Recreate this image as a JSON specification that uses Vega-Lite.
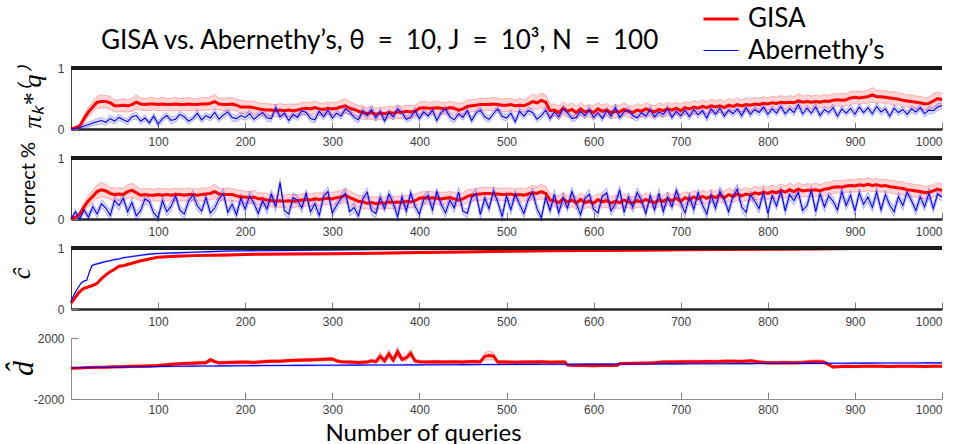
{
"$schema":"https://vega.github.io/schema/vega-lite/v6.json",
"background":"white",
"padding":{"left":8,"top":0,"right":3,"bottom":0},
"spacing":29,
"bounds":"flush",
"resolve":{"scale":{"color":"shared","strokeWidth":"shared"}},
"config":{"view":{"stroke":null},"axis":{"grid":false,"labelFont":"Liberation Sans","labelFontSize":12,"labelColor":"#404040","tickColor":"#808080","tickWidth":1,"tickSize":-7,"labelPadding":14}},
"datasets":{
"p1":[
{"x":0,"g":0,"ge":0,"a":0,"ae":0},{"x":5,"g":0.02,"ge":0.02,"a":0.01,"ae":0.01},{"x":10,"g":0.05,"ge":0.03,"a":0.02,"ae":0.02},{"x":15,"g":0.17,"ge":0.06,"a":0.05,"ae":0.03},{"x":20,"g":0.28,"ge":0.08,"a":0.07,"ae":0.04},{"x":25,"g":0.36,"ge":0.09,"a":0.1,"ae":0.04},{"x":30,"g":0.44,"ge":0.1,"a":0.12,"ae":0.05},{"x":35,"g":0.45,"ge":0.11,"a":0.14,"ae":0.05},{"x":40,"g":0.45,"ge":0.1,"a":0.11,"ae":0.05},{"x":45,"g":0.43,"ge":0.11,"a":0.17,"ae":0.06},
{"x":50,"g":0.38,"ge":0.1,"a":0.13,"ae":0.05},{"x":55,"g":0.38,"ge":0.1,"a":0.19,"ae":0.05},{"x":60,"g":0.39,"ge":0.11,"a":0.15,"ae":0.04},{"x":65,"g":0.38,"ge":0.1,"a":0.12,"ae":0.05},{"x":70,"g":0.4,"ge":0.11,"a":0.2,"ae":0.05},{"x":75,"g":0.44,"ge":0.12,"a":0.22,"ae":0.06},{"x":80,"g":0.41,"ge":0.1,"a":0.13,"ae":0.05},{"x":85,"g":0.4,"ge":0.1,"a":0.18,"ae":0.05},{"x":90,"g":0.41,"ge":0.11,"a":0.1,"ae":0.04},{"x":95,"g":0.41,"ge":0.1,"a":0.21,"ae":0.05},
{"x":100,"g":0.4,"ge":0.1,"a":0.08,"ae":0.05},{"x":105,"g":0.41,"ge":0.11,"a":0.17,"ae":0.05},{"x":110,"g":0.4,"ge":0.1,"a":0.22,"ae":0.04},{"x":115,"g":0.4,"ge":0.1,"a":0.14,"ae":0.06},{"x":120,"g":0.41,"ge":0.11,"a":0.16,"ae":0.05},{"x":125,"g":0.4,"ge":0.1,"a":0.24,"ae":0.05},{"x":130,"g":0.4,"ge":0.1,"a":0.2,"ae":0.05},{"x":135,"g":0.41,"ge":0.11,"a":0.13,"ae":0.05},{"x":140,"g":0.4,"ge":0.1,"a":0.17,"ae":0.04},{"x":145,"g":0.4,"ge":0.1,"a":0.26,"ae":0.06},
{"x":150,"g":0.41,"ge":0.11,"a":0.15,"ae":0.05},{"x":155,"g":0.41,"ge":0.1,"a":0.22,"ae":0.05},{"x":160,"g":0.42,"ge":0.11,"a":0.18,"ae":0.05},{"x":165,"g":0.45,"ge":0.12,"a":0.27,"ae":0.06},{"x":170,"g":0.41,"ge":0.1,"a":0.16,"ae":0.05},{"x":175,"g":0.4,"ge":0.1,"a":0.23,"ae":0.05},{"x":180,"g":0.4,"ge":0.11,"a":0.28,"ae":0.05},{"x":185,"g":0.41,"ge":0.1,"a":0.19,"ae":0.06},{"x":190,"g":0.39,"ge":0.1,"a":0.17,"ae":0.05},{"x":195,"g":0.36,"ge":0.11,"a":0.22,"ae":0.05},
{"x":200,"g":0.36,"ge":0.1,"a":0.19,"ae":0.05},{"x":205,"g":0.36,"ge":0.1,"a":0.25,"ae":0.06},{"x":210,"g":0.35,"ge":0.11,"a":0.16,"ae":0.05},{"x":215,"g":0.33,"ge":0.1,"a":0.22,"ae":0.05},{"x":220,"g":0.32,"ge":0.1,"a":0.27,"ae":0.05},{"x":225,"g":0.31,"ge":0.11,"a":0.18,"ae":0.06},{"x":230,"g":0.31,"ge":0.1,"a":0.17,"ae":0.05},{"x":235,"g":0.3,"ge":0.1,"a":0.35,"ae":0.06},{"x":240,"g":0.31,"ge":0.11,"a":0.2,"ae":0.05},{"x":245,"g":0.3,"ge":0.1,"a":0.26,"ae":0.05},
{"x":250,"g":0.31,"ge":0.1,"a":0.14,"ae":0.05},{"x":255,"g":0.3,"ge":0.11,"a":0.24,"ae":0.06},{"x":260,"g":0.31,"ge":0.1,"a":0.19,"ae":0.05},{"x":265,"g":0.33,"ge":0.11,"a":0.3,"ae":0.06},{"x":270,"g":0.34,"ge":0.1,"a":0.27,"ae":0.05},{"x":275,"g":0.33,"ge":0.1,"a":0.17,"ae":0.05},{"x":280,"g":0.35,"ge":0.11,"a":0.15,"ae":0.05},{"x":285,"g":0.33,"ge":0.1,"a":0.29,"ae":0.06},{"x":290,"g":0.32,"ge":0.1,"a":0.2,"ae":0.05},{"x":295,"g":0.34,"ge":0.11,"a":0.31,"ae":0.06},
{"x":300,"g":0.33,"ge":0.1,"a":0.18,"ae":0.05},{"x":305,"g":0.34,"ge":0.1,"a":0.26,"ae":0.05},{"x":310,"g":0.36,"ge":0.11,"a":0.21,"ae":0.05},{"x":315,"g":0.38,"ge":0.12,"a":0.33,"ae":0.06},{"x":320,"g":0.34,"ge":0.11,"a":0.28,"ae":0.05},{"x":325,"g":0.32,"ge":0.1,"a":0.19,"ae":0.05},{"x":330,"g":0.29,"ge":0.1,"a":0.15,"ae":0.05},{"x":335,"g":0.27,"ge":0.11,"a":0.3,"ae":0.06},{"x":340,"g":0.25,"ge":0.1,"a":0.22,"ae":0.05},{"x":345,"g":0.27,"ge":0.11,"a":0.32,"ae":0.06},
{"x":350,"g":0.24,"ge":0.1,"a":0.18,"ae":0.05},{"x":355,"g":0.26,"ge":0.1,"a":0.29,"ae":0.05},{"x":360,"g":0.25,"ge":0.11,"a":0.13,"ae":0.05},{"x":365,"g":0.27,"ge":0.1,"a":0.27,"ae":0.06},{"x":370,"g":0.26,"ge":0.1,"a":0.2,"ae":0.05},{"x":375,"g":0.28,"ge":0.11,"a":0.33,"ae":0.06},{"x":380,"g":0.27,"ge":0.1,"a":0.27,"ae":0.05},{"x":385,"g":0.29,"ge":0.1,"a":0.16,"ae":0.05},{"x":390,"g":0.28,"ge":0.11,"a":0.19,"ae":0.05},{"x":395,"g":0.29,"ge":0.1,"a":0.3,"ae":0.06},
{"x":400,"g":0.34,"ge":0.1,"a":0.17,"ae":0.05},{"x":405,"g":0.35,"ge":0.11,"a":0.28,"ae":0.05},{"x":410,"g":0.34,"ge":0.1,"a":0.21,"ae":0.05},{"x":415,"g":0.34,"ge":0.1,"a":0.31,"ae":0.06},{"x":420,"g":0.35,"ge":0.11,"a":0.14,"ae":0.05},{"x":425,"g":0.34,"ge":0.1,"a":0.27,"ae":0.05},{"x":430,"g":0.33,"ge":0.1,"a":0.33,"ae":0.05},{"x":435,"g":0.35,"ge":0.11,"a":0.2,"ae":0.06},{"x":440,"g":0.34,"ge":0.1,"a":0.15,"ae":0.05},{"x":445,"g":0.31,"ge":0.11,"a":0.25,"ae":0.05},
{"x":450,"g":0.33,"ge":0.1,"a":0.19,"ae":0.05},{"x":455,"g":0.37,"ge":0.11,"a":0.3,"ae":0.06},{"x":460,"g":0.38,"ge":0.1,"a":0.14,"ae":0.05},{"x":465,"g":0.39,"ge":0.1,"a":0.26,"ae":0.05},{"x":470,"g":0.4,"ge":0.11,"a":0.31,"ae":0.05},{"x":475,"g":0.4,"ge":0.1,"a":0.2,"ae":0.06},{"x":480,"g":0.4,"ge":0.1,"a":0.16,"ae":0.05},{"x":485,"g":0.41,"ge":0.11,"a":0.25,"ae":0.05},{"x":490,"g":0.4,"ge":0.1,"a":0.33,"ae":0.05},{"x":495,"g":0.39,"ge":0.1,"a":0.21,"ae":0.06},
{"x":500,"g":0.39,"ge":0.11,"a":0.18,"ae":0.05},{"x":505,"g":0.4,"ge":0.1,"a":0.26,"ae":0.05},{"x":510,"g":0.38,"ge":0.1,"a":0.12,"ae":0.05},{"x":515,"g":0.39,"ge":0.11,"a":0.29,"ae":0.06},{"x":520,"g":0.38,"ge":0.1,"a":0.21,"ae":0.05},{"x":525,"g":0.41,"ge":0.11,"a":0.3,"ae":0.06},{"x":530,"g":0.45,"ge":0.12,"a":0.27,"ae":0.05},{"x":535,"g":0.43,"ge":0.11,"a":0.16,"ae":0.05},{"x":540,"g":0.47,"ge":0.12,"a":0.22,"ae":0.05},{"x":545,"g":0.44,"ge":0.12,"a":0.31,"ae":0.06},
{"x":550,"g":0.3,"ge":0.11,"a":0.17,"ae":0.05},{"x":555,"g":0.31,"ge":0.1,"a":0.28,"ae":0.05},{"x":560,"g":0.27,"ge":0.11,"a":0.2,"ae":0.05},{"x":565,"g":0.34,"ge":0.11,"a":0.33,"ae":0.06},{"x":570,"g":0.29,"ge":0.1,"a":0.27,"ae":0.05},{"x":575,"g":0.32,"ge":0.11,"a":0.17,"ae":0.05},{"x":580,"g":0.27,"ge":0.1,"a":0.19,"ae":0.05},{"x":585,"g":0.33,"ge":0.11,"a":0.29,"ae":0.06},{"x":590,"g":0.28,"ge":0.1,"a":0.22,"ae":0.05},{"x":595,"g":0.3,"ge":0.1,"a":0.32,"ae":0.06},
{"x":600,"g":0.27,"ge":0.11,"a":0.19,"ae":0.05},{"x":605,"g":0.33,"ge":0.1,"a":0.27,"ae":0.05},{"x":610,"g":0.29,"ge":0.1,"a":0.17,"ae":0.05},{"x":615,"g":0.31,"ge":0.11,"a":0.3,"ae":0.06},{"x":620,"g":0.27,"ge":0.1,"a":0.21,"ae":0.05},{"x":625,"g":0.29,"ge":0.11,"a":0.35,"ae":0.06},{"x":630,"g":0.28,"ge":0.1,"a":0.19,"ae":0.05},{"x":635,"g":0.32,"ge":0.11,"a":0.28,"ae":0.05},{"x":640,"g":0.29,"ge":0.1,"a":0.31,"ae":0.05},{"x":645,"g":0.27,"ge":0.1,"a":0.22,"ae":0.06},
{"x":650,"g":0.31,"ge":0.11,"a":0.18,"ae":0.05},{"x":655,"g":0.29,"ge":0.1,"a":0.27,"ae":0.05},{"x":660,"g":0.33,"ge":0.11,"a":0.21,"ae":0.05},{"x":665,"g":0.3,"ge":0.1,"a":0.32,"ae":0.06},{"x":670,"g":0.28,"ge":0.1,"a":0.2,"ae":0.05},{"x":675,"g":0.32,"ge":0.11,"a":0.28,"ae":0.05},{"x":680,"g":0.3,"ge":0.1,"a":0.24,"ae":0.05},{"x":685,"g":0.33,"ge":0.11,"a":0.33,"ae":0.06},{"x":690,"g":0.31,"ge":0.1,"a":0.19,"ae":0.05},{"x":695,"g":0.34,"ge":0.1,"a":0.29,"ae":0.05},
{"x":700,"g":0.3,"ge":0.11,"a":0.22,"ae":0.05},{"x":705,"g":0.35,"ge":0.1,"a":0.31,"ae":0.06},{"x":710,"g":0.33,"ge":0.1,"a":0.2,"ae":0.05},{"x":715,"g":0.36,"ge":0.11,"a":0.32,"ae":0.06},{"x":720,"g":0.34,"ge":0.1,"a":0.23,"ae":0.05},{"x":725,"g":0.37,"ge":0.11,"a":0.3,"ae":0.05},{"x":730,"g":0.35,"ge":0.1,"a":0.18,"ae":0.05},{"x":735,"g":0.38,"ge":0.11,"a":0.33,"ae":0.06},{"x":740,"g":0.36,"ge":0.1,"a":0.24,"ae":0.05},{"x":745,"g":0.38,"ge":0.11,"a":0.34,"ae":0.06},
{"x":750,"g":0.35,"ge":0.1,"a":0.21,"ae":0.05},{"x":755,"g":0.39,"ge":0.11,"a":0.31,"ae":0.05},{"x":760,"g":0.37,"ge":0.1,"a":0.25,"ae":0.05},{"x":765,"g":0.4,"ge":0.11,"a":0.33,"ae":0.06},{"x":770,"g":0.38,"ge":0.1,"a":0.22,"ae":0.05},{"x":775,"g":0.4,"ge":0.11,"a":0.35,"ae":0.06},{"x":780,"g":0.39,"ge":0.1,"a":0.24,"ae":0.05},{"x":785,"g":0.41,"ge":0.11,"a":0.32,"ae":0.05},{"x":790,"g":0.4,"ge":0.1,"a":0.27,"ae":0.05},{"x":795,"g":0.42,"ge":0.11,"a":0.36,"ae":0.06},
{"x":800,"g":0.41,"ge":0.1,"a":0.24,"ae":0.05},{"x":805,"g":0.43,"ge":0.11,"a":0.33,"ae":0.05},{"x":810,"g":0.42,"ge":0.1,"a":0.26,"ae":0.05},{"x":815,"g":0.44,"ge":0.11,"a":0.37,"ae":0.06},{"x":820,"g":0.43,"ge":0.1,"a":0.25,"ae":0.05},{"x":825,"g":0.44,"ge":0.11,"a":0.33,"ae":0.05},{"x":830,"g":0.43,"ge":0.1,"a":0.27,"ae":0.05},{"x":835,"g":0.46,"ge":0.12,"a":0.4,"ae":0.06},{"x":840,"g":0.44,"ge":0.1,"a":0.25,"ae":0.05},{"x":845,"g":0.45,"ge":0.11,"a":0.34,"ae":0.05},
{"x":850,"g":0.44,"ge":0.1,"a":0.26,"ae":0.05},{"x":855,"g":0.45,"ge":0.11,"a":0.36,"ae":0.06},{"x":860,"g":0.44,"ge":0.1,"a":0.22,"ae":0.05},{"x":865,"g":0.46,"ge":0.11,"a":0.32,"ae":0.05},{"x":870,"g":0.45,"ge":0.1,"a":0.27,"ae":0.05},{"x":875,"g":0.47,"ge":0.11,"a":0.35,"ae":0.06},{"x":880,"g":0.48,"ge":0.1,"a":0.21,"ae":0.05},{"x":885,"g":0.47,"ge":0.11,"a":0.33,"ae":0.05},{"x":890,"g":0.48,"ge":0.1,"a":0.26,"ae":0.05},{"x":895,"g":0.51,"ge":0.11,"a":0.34,"ae":0.06},
{"x":900,"g":0.52,"ge":0.1,"a":0.24,"ae":0.05},{"x":905,"g":0.51,"ge":0.11,"a":0.36,"ae":0.06},{"x":910,"g":0.52,"ge":0.1,"a":0.27,"ae":0.05},{"x":915,"g":0.53,"ge":0.11,"a":0.35,"ae":0.05},{"x":920,"g":0.56,"ge":0.12,"a":0.25,"ae":0.05},{"x":925,"g":0.53,"ge":0.11,"a":0.37,"ae":0.06},{"x":930,"g":0.53,"ge":0.1,"a":0.28,"ae":0.05},{"x":935,"g":0.52,"ge":0.11,"a":0.33,"ae":0.05},{"x":940,"g":0.51,"ge":0.1,"a":0.21,"ae":0.05},{"x":945,"g":0.5,"ge":0.11,"a":0.34,"ae":0.06},
{"x":950,"g":0.49,"ge":0.1,"a":0.27,"ae":0.05},{"x":955,"g":0.47,"ge":0.11,"a":0.32,"ae":0.05},{"x":960,"g":0.46,"ge":0.1,"a":0.24,"ae":0.05},{"x":965,"g":0.45,"ge":0.11,"a":0.33,"ae":0.06},{"x":970,"g":0.44,"ge":0.1,"a":0.28,"ae":0.05},{"x":975,"g":0.43,"ge":0.11,"a":0.35,"ae":0.05},{"x":980,"g":0.41,"ge":0.1,"a":0.25,"ae":0.05},{"x":985,"g":0.42,"ge":0.11,"a":0.31,"ae":0.06},{"x":990,"g":0.46,"ge":0.12,"a":0.3,"ae":0.05},{"x":995,"g":0.5,"ge":0.11,"a":0.36,"ae":0.06},
{"x":1000,"g":0.48,"ge":0.1,"a":0.38,"ae":0.05}
],
"p2":[
{"x":0,"g":0,"ge":0,"a":0,"ae":0},{"x":5,"g":0.03,"ge":0.02,"a":0.12,"ae":0.04},{"x":10,"g":0.08,"ge":0.04,"a":0,"ae":0.03},{"x":15,"g":0.2,"ge":0.07,"a":0.15,"ae":0.05},{"x":20,"g":0.3,"ge":0.09,"a":0.03,"ae":0.05},{"x":25,"g":0.37,"ge":0.1,"a":0.2,"ae":0.06},{"x":30,"g":0.45,"ge":0.11,"a":0.08,"ae":0.06},{"x":35,"g":0.48,"ge":0.12,"a":0.25,"ae":0.07},{"x":40,"g":0.46,"ge":0.11,"a":0.18,"ae":0.07},{"x":45,"g":0.42,"ge":0.1,"a":0.06,"ae":0.08},
{"x":50,"g":0.4,"ge":0.11,"a":0.3,"ae":0.07},{"x":55,"g":0.41,"ge":0.1,"a":0.22,"ae":0.08},{"x":60,"g":0.4,"ge":0.1,"a":0.34,"ae":0.06},{"x":65,"g":0.45,"ge":0.11,"a":0.12,"ae":0.07},{"x":70,"g":0.47,"ge":0.12,"a":0.27,"ae":0.07},{"x":75,"g":0.43,"ge":0.11,"a":0.05,"ae":0.08},{"x":80,"g":0.39,"ge":0.1,"a":0.14,"ae":0.07},{"x":85,"g":0.4,"ge":0.1,"a":0.33,"ae":0.08},{"x":90,"g":0.39,"ge":0.11,"a":0.28,"ae":0.06},{"x":95,"g":0.39,"ge":0.1,"a":0.1,"ae":0.07},
{"x":100,"g":0.4,"ge":0.1,"a":0.02,"ae":0.07},{"x":105,"g":0.39,"ge":0.11,"a":0.3,"ae":0.08},{"x":110,"g":0.4,"ge":0.1,"a":0.12,"ae":0.07},{"x":115,"g":0.39,"ge":0.1,"a":0.21,"ae":0.08},{"x":120,"g":0.4,"ge":0.11,"a":0.38,"ae":0.06},{"x":125,"g":0.4,"ge":0.1,"a":0.15,"ae":0.07},{"x":130,"g":0.39,"ge":0.1,"a":0.08,"ae":0.07},{"x":135,"g":0.4,"ge":0.11,"a":0.29,"ae":0.08},{"x":140,"g":0.4,"ge":0.1,"a":0.4,"ae":0.07},{"x":145,"g":0.39,"ge":0.1,"a":0.22,"ae":0.08},
{"x":150,"g":0.4,"ge":0.11,"a":0.13,"ae":0.06},{"x":155,"g":0.41,"ge":0.1,"a":0.35,"ae":0.07},{"x":160,"g":0.42,"ge":0.11,"a":0.1,"ae":0.07},{"x":165,"g":0.45,"ge":0.12,"a":0.18,"ae":0.08},{"x":170,"g":0.41,"ge":0.1,"a":0.33,"ae":0.07},{"x":175,"g":0.4,"ge":0.1,"a":0.42,"ae":0.08},{"x":180,"g":0.4,"ge":0.11,"a":0.11,"ae":0.06},{"x":185,"g":0.4,"ge":0.1,"a":0.24,"ae":0.07},{"x":190,"g":0.38,"ge":0.1,"a":0.07,"ae":0.07},{"x":195,"g":0.36,"ge":0.11,"a":0.34,"ae":0.08},
{"x":200,"g":0.36,"ge":0.1,"a":0.16,"ae":0.07},{"x":205,"g":0.35,"ge":0.1,"a":0.38,"ae":0.08},{"x":210,"g":0.36,"ge":0.11,"a":0.26,"ae":0.06},{"x":215,"g":0.33,"ge":0.1,"a":0.09,"ae":0.07},{"x":220,"g":0.33,"ge":0.1,"a":0.3,"ae":0.07},{"x":225,"g":0.31,"ge":0.11,"a":0.16,"ae":0.08},{"x":230,"g":0.3,"ge":0.1,"a":0.41,"ae":0.07},{"x":235,"g":0.29,"ge":0.1,"a":0.2,"ae":0.08},{"x":240,"g":0.3,"ge":0.11,"a":0.6,"ae":0.06},{"x":245,"g":0.29,"ge":0.1,"a":0.14,"ae":0.07},
{"x":250,"g":0.3,"ge":0.1,"a":0.08,"ae":0.07},{"x":255,"g":0.29,"ge":0.11,"a":0.35,"ae":0.08},{"x":260,"g":0.3,"ge":0.1,"a":0.31,"ae":0.07},{"x":265,"g":0.31,"ge":0.1,"a":0.18,"ae":0.08},{"x":270,"g":0.32,"ge":0.11,"a":0.42,"ae":0.06},{"x":275,"g":0.31,"ge":0.1,"a":0.12,"ae":0.07},{"x":280,"g":0.33,"ge":0.1,"a":0.25,"ae":0.07},{"x":285,"g":0.32,"ge":0.11,"a":0.06,"ae":0.08},{"x":290,"g":0.33,"ge":0.1,"a":0.37,"ae":0.07},{"x":295,"g":0.34,"ge":0.1,"a":0.45,"ae":0.08},
{"x":300,"g":0.33,"ge":0.11,"a":0.1,"ae":0.06},{"x":305,"g":0.35,"ge":0.1,"a":0.22,"ae":0.07},{"x":310,"g":0.36,"ge":0.11,"a":0.34,"ae":0.07},{"x":315,"g":0.39,"ge":0.12,"a":0.42,"ae":0.08},{"x":320,"g":0.35,"ge":0.11,"a":0.12,"ae":0.07},{"x":325,"g":0.32,"ge":0.1,"a":0.19,"ae":0.08},{"x":330,"g":0.29,"ge":0.1,"a":0.05,"ae":0.06},{"x":335,"g":0.28,"ge":0.11,"a":0.33,"ae":0.07},{"x":340,"g":0.26,"ge":0.1,"a":0.44,"ae":0.07},{"x":345,"g":0.27,"ge":0.1,"a":0.14,"ae":0.08},
{"x":350,"g":0.25,"ge":0.11,"a":0.09,"ae":0.07},{"x":355,"g":0.27,"ge":0.1,"a":0.35,"ae":0.08},{"x":360,"g":0.26,"ge":0.1,"a":0.17,"ae":0.06},{"x":365,"g":0.28,"ge":0.11,"a":0.41,"ae":0.07},{"x":370,"g":0.27,"ge":0.1,"a":0.26,"ae":0.07},{"x":375,"g":0.28,"ge":0.1,"a":0.04,"ae":0.08},{"x":380,"g":0.27,"ge":0.11,"a":0.36,"ae":0.07},{"x":385,"g":0.29,"ge":0.1,"a":0.13,"ae":0.08},{"x":390,"g":0.28,"ge":0.1,"a":0.43,"ae":0.06},{"x":395,"g":0.3,"ge":0.11,"a":0.21,"ae":0.07},
{"x":400,"g":0.34,"ge":0.1,"a":0.08,"ae":0.07},{"x":405,"g":0.35,"ge":0.1,"a":0.32,"ae":0.08},{"x":410,"g":0.34,"ge":0.11,"a":0.39,"ae":0.07},{"x":415,"g":0.35,"ge":0.1,"a":0.15,"ae":0.08},{"x":420,"g":0.34,"ge":0.1,"a":0.45,"ae":0.06},{"x":425,"g":0.33,"ge":0.11,"a":0.24,"ae":0.07},{"x":430,"g":0.34,"ge":0.1,"a":0.1,"ae":0.07},{"x":435,"g":0.35,"ge":0.1,"a":0.31,"ae":0.08},{"x":440,"g":0.33,"ge":0.11,"a":0.18,"ae":0.07},{"x":445,"g":0.31,"ge":0.1,"a":0.44,"ae":0.08},
{"x":450,"g":0.33,"ge":0.1,"a":0.13,"ae":0.06},{"x":455,"g":0.37,"ge":0.11,"a":0.09,"ae":0.07},{"x":460,"g":0.39,"ge":0.1,"a":0.35,"ae":0.07},{"x":465,"g":0.4,"ge":0.1,"a":0.42,"ae":0.08},{"x":470,"g":0.41,"ge":0.11,"a":0.07,"ae":0.07},{"x":475,"g":0.42,"ge":0.1,"a":0.34,"ae":0.08},{"x":480,"g":0.42,"ge":0.1,"a":0.17,"ae":0.06},{"x":485,"g":0.41,"ge":0.11,"a":0.46,"ae":0.07},{"x":490,"g":0.41,"ge":0.1,"a":0.28,"ae":0.07},{"x":495,"g":0.4,"ge":0.1,"a":0.04,"ae":0.08},
{"x":500,"g":0.4,"ge":0.11,"a":0.38,"ae":0.07},{"x":505,"g":0.41,"ge":0.1,"a":0.15,"ae":0.08},{"x":510,"g":0.39,"ge":0.1,"a":0.41,"ae":0.06},{"x":515,"g":0.4,"ge":0.11,"a":0.24,"ae":0.07},{"x":520,"g":0.39,"ge":0.1,"a":0.09,"ae":0.07},{"x":525,"g":0.41,"ge":0.11,"a":0.32,"ae":0.08},{"x":530,"g":0.43,"ge":0.12,"a":0.44,"ae":0.07},{"x":535,"g":0.42,"ge":0.11,"a":0.17,"ae":0.08},{"x":540,"g":0.45,"ge":0.12,"a":0.02,"ae":0.06},{"x":545,"g":0.42,"ge":0.12,"a":0.36,"ae":0.07},
{"x":550,"g":0.31,"ge":0.11,"a":0.14,"ae":0.07},{"x":555,"g":0.3,"ge":0.1,"a":0.4,"ae":0.08},{"x":560,"g":0.27,"ge":0.11,"a":0.1,"ae":0.07},{"x":565,"g":0.33,"ge":0.11,"a":0.35,"ae":0.08},{"x":570,"g":0.28,"ge":0.1,"a":0.18,"ae":0.06},{"x":575,"g":0.31,"ge":0.11,"a":0.45,"ae":0.07},{"x":580,"g":0.26,"ge":0.1,"a":0.26,"ae":0.07},{"x":585,"g":0.32,"ge":0.11,"a":0.07,"ae":0.08},{"x":590,"g":0.27,"ge":0.1,"a":0.33,"ae":0.07},{"x":595,"g":0.29,"ge":0.1,"a":0.41,"ae":0.08},
{"x":600,"g":0.26,"ge":0.11,"a":0.16,"ae":0.06},{"x":605,"g":0.32,"ge":0.1,"a":0.1,"ae":0.07},{"x":610,"g":0.28,"ge":0.1,"a":0.37,"ae":0.07},{"x":615,"g":0.3,"ge":0.11,"a":0.43,"ae":0.08},{"x":620,"g":0.26,"ge":0.1,"a":0.13,"ae":0.07},{"x":625,"g":0.29,"ge":0.11,"a":0.25,"ae":0.08},{"x":630,"g":0.27,"ge":0.1,"a":0.48,"ae":0.06},{"x":635,"g":0.31,"ge":0.11,"a":0.11,"ae":0.07},{"x":640,"g":0.28,"ge":0.1,"a":0.36,"ae":0.07},{"x":645,"g":0.26,"ge":0.1,"a":0.19,"ae":0.08},
{"x":650,"g":0.3,"ge":0.11,"a":0.44,"ae":0.07},{"x":655,"g":0.28,"ge":0.1,"a":0.3,"ae":0.08},{"x":660,"g":0.32,"ge":0.11,"a":0.09,"ae":0.06},{"x":665,"g":0.29,"ge":0.1,"a":0.38,"ae":0.07},{"x":670,"g":0.27,"ge":0.1,"a":0.15,"ae":0.07},{"x":675,"g":0.31,"ge":0.11,"a":0.42,"ae":0.08},{"x":680,"g":0.29,"ge":0.1,"a":0.12,"ae":0.07},{"x":685,"g":0.33,"ge":0.11,"a":0.36,"ae":0.08},{"x":690,"g":0.3,"ge":0.1,"a":0.2,"ae":0.06},{"x":695,"g":0.34,"ge":0.1,"a":0.47,"ae":0.07},
{"x":700,"g":0.29,"ge":0.11,"a":0.27,"ae":0.07},{"x":705,"g":0.35,"ge":0.1,"a":0.1,"ae":0.08},{"x":710,"g":0.32,"ge":0.1,"a":0.37,"ae":0.07},{"x":715,"g":0.36,"ge":0.11,"a":0.16,"ae":0.08},{"x":720,"g":0.33,"ge":0.1,"a":0.43,"ae":0.06},{"x":725,"g":0.37,"ge":0.11,"a":0.23,"ae":0.07},{"x":730,"g":0.34,"ge":0.1,"a":0.08,"ae":0.07},{"x":735,"g":0.38,"ge":0.11,"a":0.39,"ae":0.08},{"x":740,"g":0.35,"ge":0.1,"a":0.18,"ae":0.07},{"x":745,"g":0.39,"ge":0.11,"a":0.45,"ae":0.08},
{"x":750,"g":0.35,"ge":0.1,"a":0.32,"ae":0.06},{"x":755,"g":0.4,"ge":0.11,"a":0.12,"ae":0.07},{"x":760,"g":0.37,"ge":0.1,"a":0.37,"ae":0.07},{"x":765,"g":0.41,"ge":0.11,"a":0.49,"ae":0.08},{"x":770,"g":0.38,"ge":0.1,"a":0.2,"ae":0.07},{"x":775,"g":0.41,"ge":0.11,"a":0.11,"ae":0.08},{"x":780,"g":0.39,"ge":0.1,"a":0.4,"ae":0.06},{"x":785,"g":0.43,"ge":0.11,"a":0.29,"ae":0.07},{"x":790,"g":0.41,"ge":0.1,"a":0.17,"ae":0.07},{"x":795,"g":0.44,"ge":0.11,"a":0.44,"ae":0.08},
{"x":800,"g":0.42,"ge":0.1,"a":0.09,"ae":0.07},{"x":805,"g":0.45,"ge":0.11,"a":0.38,"ae":0.08},{"x":810,"g":0.43,"ge":0.1,"a":0.21,"ae":0.06},{"x":815,"g":0.47,"ge":0.11,"a":0.46,"ae":0.07},{"x":820,"g":0.44,"ge":0.1,"a":0.13,"ae":0.07},{"x":825,"g":0.48,"ge":0.11,"a":0.4,"ae":0.08},{"x":830,"g":0.45,"ge":0.1,"a":0.3,"ae":0.07},{"x":835,"g":0.49,"ge":0.11,"a":0.44,"ae":0.08},{"x":840,"g":0.46,"ge":0.1,"a":0.14,"ae":0.06},{"x":845,"g":0.47,"ge":0.11,"a":0.22,"ae":0.07},
{"x":850,"g":0.47,"ge":0.1,"a":0.47,"ae":0.07},{"x":855,"g":0.48,"ge":0.11,"a":0.12,"ae":0.08},{"x":860,"g":0.46,"ge":0.1,"a":0.41,"ae":0.07},{"x":865,"g":0.49,"ge":0.11,"a":0.2,"ae":0.08},{"x":870,"g":0.5,"ge":0.1,"a":0.38,"ae":0.06},{"x":875,"g":0.52,"ge":0.11,"a":0.29,"ae":0.07},{"x":880,"g":0.53,"ge":0.1,"a":0.15,"ae":0.07},{"x":885,"g":0.52,"ge":0.11,"a":0.45,"ae":0.08},{"x":890,"g":0.54,"ge":0.1,"a":0.22,"ae":0.07},{"x":895,"g":0.55,"ge":0.11,"a":0.39,"ae":0.08},
{"x":900,"g":0.54,"ge":0.1,"a":0.13,"ae":0.06},{"x":905,"g":0.56,"ge":0.11,"a":0.43,"ae":0.07},{"x":910,"g":0.55,"ge":0.1,"a":0.24,"ae":0.07},{"x":915,"g":0.57,"ge":0.11,"a":0.36,"ae":0.08},{"x":920,"g":0.55,"ge":0.1,"a":0.19,"ae":0.07},{"x":925,"g":0.56,"ge":0.11,"a":0.44,"ae":0.08},{"x":930,"g":0.54,"ge":0.1,"a":0.15,"ae":0.06},{"x":935,"g":0.55,"ge":0.11,"a":0.4,"ae":0.07},{"x":940,"g":0.53,"ge":0.1,"a":0.23,"ae":0.07},{"x":945,"g":0.52,"ge":0.11,"a":0.12,"ae":0.08},
{"x":950,"g":0.51,"ge":0.1,"a":0.37,"ae":0.07},{"x":955,"g":0.5,"ge":0.11,"a":0.22,"ae":0.08},{"x":960,"g":0.48,"ge":0.1,"a":0.44,"ae":0.06},{"x":965,"g":0.47,"ge":0.11,"a":0.3,"ae":0.07},{"x":970,"g":0.46,"ge":0.1,"a":0.14,"ae":0.07},{"x":975,"g":0.45,"ge":0.11,"a":0.36,"ae":0.08},{"x":980,"g":0.43,"ge":0.1,"a":0.2,"ae":0.07},{"x":985,"g":0.44,"ge":0.11,"a":0.42,"ae":0.08},{"x":990,"g":0.46,"ge":0.1,"a":0.17,"ae":0.06},{"x":995,"g":0.49,"ge":0.11,"a":0.41,"ae":0.07},
{"x":1000,"g":0.47,"ge":0.1,"a":0.36,"ae":0.07}
],
"p3":[
{"x":0,"g":0.1,"ge":0.01,"a":0.12,"ae":0.01},{"x":3,"g":0.15,"ge":0.015,"a":0.22,"ae":0.01},{"x":6,"g":0.21,"ge":0.015,"a":0.3,"ae":0.01},{"x":9,"g":0.27,"ge":0.015,"a":0.37,"ae":0.01},{"x":12,"g":0.31,"ge":0.015,"a":0.43,"ae":0.01},{"x":15,"g":0.34,"ge":0.015,"a":0.46,"ae":0.01},{"x":18,"g":0.35,"ge":0.015,"a":0.47,"ae":0.01},{"x":21,"g":0.37,"ge":0.015,"a":0.6,"ae":0.01},{"x":24,"g":0.38,"ge":0.015,"a":0.71,"ae":0.01},{"x":27,"g":0.4,"ge":0.015,"a":0.73,"ae":0.01},
{"x":30,"g":0.42,"ge":0.015,"a":0.74,"ae":0.01},{"x":35,"g":0.5,"ge":0.015,"a":0.76,"ae":0.01},{"x":40,"g":0.56,"ge":0.015,"a":0.78,"ae":0.01},{"x":45,"g":0.61,"ge":0.015,"a":0.79,"ae":0.01},{"x":50,"g":0.65,"ge":0.015,"a":0.81,"ae":0.01},{"x":55,"g":0.7,"ge":0.015,"a":0.82,"ae":0.01},{"x":60,"g":0.71,"ge":0.015,"a":0.84,"ae":0.01},{"x":70,"g":0.75,"ge":0.015,"a":0.86,"ae":0.01},{"x":80,"g":0.79,"ge":0.015,"a":0.88,"ae":0.01},{"x":90,"g":0.82,"ge":0.015,"a":0.9,"ae":0.01},
{"x":100,"g":0.85,"ge":0.015,"a":0.91,"ae":0.01},{"x":120,"g":0.865,"ge":0.015,"a":0.92,"ae":0.01},{"x":140,"g":0.875,"ge":0.015,"a":0.93,"ae":0.01},{"x":160,"g":0.88,"ge":0.015,"a":0.94,"ae":0.01},{"x":180,"g":0.885,"ge":0.015,"a":0.95,"ae":0.01},{"x":200,"g":0.895,"ge":0.015,"a":0.955,"ae":0.01},{"x":250,"g":0.9,"ge":0.015,"a":0.96,"ae":0.01},{"x":300,"g":0.905,"ge":0.015,"a":0.97,"ae":0.01},{"x":350,"g":0.915,"ge":0.015,"a":0.975,"ae":0.01},{"x":400,"g":0.925,"ge":0.015,"a":0.98,"ae":0.01},
{"x":450,"g":0.935,"ge":0.015,"a":0.98,"ae":0.01},{"x":500,"g":0.945,"ge":0.015,"a":0.985,"ae":0.01},{"x":550,"g":0.955,"ge":0.015,"a":0.99,"ae":0.01},{"x":600,"g":0.96,"ge":0.015,"a":0.99,"ae":0.01},{"x":650,"g":0.965,"ge":0.015,"a":0.99,"ae":0.01},{"x":700,"g":0.97,"ge":0.015,"a":0.995,"ae":0.01},{"x":750,"g":0.975,"ge":0.015,"a":0.995,"ae":0.01},{"x":800,"g":0.98,"ge":0.015,"a":0.995,"ae":0.01},{"x":850,"g":0.985,"ge":0.015,"a":0.997,"ae":0.01},{"x":900,"g":0.99,"ge":0.015,"a":0.998,"ae":0.01},
{"x":950,"g":0.99,"ge":0.015,"a":0.999,"ae":0.01},{"x":1000,"g":0.995,"ge":0.01,"a":1,"ae":0.005}
],
"p4":[
{"x":0,"g":20,"ge":20,"a":30,"ae":15},{"x":10,"g":40,"ge":40,"a":45,"ae":20},{"x":20,"g":60,"ge":50,"a":55,"ae":25},{"x":30,"g":80,"ge":60,"a":65,"ae":30},{"x":40,"g":90,"ge":70,"a":72,"ae":30},{"x":50,"g":110,"ge":80,"a":80,"ae":35},{"x":60,"g":120,"ge":80,"a":90,"ae":35},{"x":70,"g":140,"ge":90,"a":100,"ae":40},{"x":80,"g":150,"ge":90,"a":110,"ae":40},{"x":90,"g":170,"ge":100,"a":120,"ae":40},
{"x":100,"g":190,"ge":100,"a":130,"ae":40},{"x":110,"g":250,"ge":100,"a":140,"ae":40},{"x":120,"g":300,"ge":100,"a":145,"ae":40},{"x":130,"g":320,"ge":100,"a":150,"ae":40},{"x":140,"g":350,"ge":100,"a":155,"ae":40},{"x":150,"g":370,"ge":100,"a":160,"ae":40},{"x":155,"g":380,"ge":100,"a":163,"ae":40},{"x":160,"g":580,"ge":130,"a":165,"ae":40},{"x":165,"g":450,"ge":110,"a":167,"ae":40},{"x":170,"g":370,"ge":100,"a":170,"ae":40},
{"x":180,"g":400,"ge":100,"a":175,"ae":40},{"x":190,"g":410,"ge":100,"a":180,"ae":40},{"x":200,"g":420,"ge":100,"a":185,"ae":40},{"x":210,"g":400,"ge":100,"a":188,"ae":40},{"x":220,"g":450,"ge":100,"a":192,"ae":40},{"x":230,"g":480,"ge":100,"a":195,"ae":40},{"x":240,"g":470,"ge":100,"a":198,"ae":40},{"x":250,"g":520,"ge":100,"a":200,"ae":40},{"x":260,"g":540,"ge":100,"a":203,"ae":40},{"x":270,"g":560,"ge":100,"a":206,"ae":40},
{"x":280,"g":580,"ge":100,"a":209,"ae":40},{"x":290,"g":600,"ge":100,"a":212,"ae":40},{"x":300,"g":630,"ge":110,"a":215,"ae":40},{"x":305,"g":500,"ge":100,"a":216,"ae":40},{"x":310,"g":450,"ge":100,"a":218,"ae":40},{"x":320,"g":420,"ge":100,"a":220,"ae":40},{"x":330,"g":400,"ge":100,"a":223,"ae":40},{"x":340,"g":420,"ge":100,"a":226,"ae":40},{"x":345,"g":500,"ge":120,"a":227,"ae":40},{"x":350,"g":450,"ge":110,"a":228,"ae":40},
{"x":355,"g":800,"ge":300,"a":229,"ae":40},{"x":360,"g":500,"ge":150,"a":230,"ae":40},{"x":365,"g":950,"ge":300,"a":231,"ae":40},{"x":370,"g":550,"ge":150,"a":232,"ae":40},{"x":375,"g":1100,"ge":300,"a":233,"ae":40},{"x":380,"g":600,"ge":150,"a":234,"ae":40},{"x":385,"g":700,"ge":200,"a":235,"ae":40},{"x":390,"g":1000,"ge":250,"a":236,"ae":40},{"x":395,"g":500,"ge":120,"a":237,"ae":40},{"x":400,"g":450,"ge":100,"a":238,"ae":40},
{"x":410,"g":430,"ge":100,"a":241,"ae":40},{"x":420,"g":440,"ge":100,"a":244,"ae":40},{"x":430,"g":420,"ge":100,"a":247,"ae":40},{"x":440,"g":450,"ge":100,"a":250,"ae":40},{"x":450,"g":430,"ge":100,"a":253,"ae":40},{"x":460,"g":460,"ge":100,"a":256,"ae":40},{"x":470,"g":450,"ge":100,"a":259,"ae":40},{"x":475,"g":800,"ge":250,"a":260,"ae":40},{"x":480,"g":850,"ge":300,"a":261,"ae":40},{"x":485,"g":820,"ge":250,"a":262,"ae":40},
{"x":490,"g":420,"ge":100,"a":263,"ae":40},{"x":500,"g":420,"ge":100,"a":266,"ae":40},{"x":510,"g":410,"ge":100,"a":268,"ae":40},{"x":520,"g":430,"ge":100,"a":270,"ae":40},{"x":530,"g":420,"ge":100,"a":272,"ae":40},{"x":540,"g":440,"ge":100,"a":274,"ae":40},{"x":550,"g":410,"ge":100,"a":276,"ae":40},{"x":560,"g":430,"ge":100,"a":278,"ae":40},{"x":567,"g":430,"ge":100,"a":279,"ae":40},{"x":570,"g":220,"ge":80,"a":280,"ae":40},
{"x":580,"g":200,"ge":80,"a":282,"ae":40},{"x":590,"g":190,"ge":80,"a":284,"ae":40},{"x":600,"g":180,"ge":80,"a":286,"ae":40},{"x":610,"g":200,"ge":80,"a":288,"ae":40},{"x":620,"g":190,"ge":80,"a":290,"ae":40},{"x":627,"g":200,"ge":80,"a":291,"ae":40},{"x":630,"g":320,"ge":100,"a":292,"ae":40},{"x":640,"g":330,"ge":100,"a":294,"ae":40},{"x":650,"g":340,"ge":100,"a":296,"ae":40},{"x":660,"g":350,"ge":100,"a":298,"ae":40},
{"x":670,"g":370,"ge":100,"a":300,"ae":40},{"x":680,"g":420,"ge":100,"a":302,"ae":40},{"x":690,"g":430,"ge":100,"a":304,"ae":40},{"x":700,"g":440,"ge":100,"a":306,"ae":40},{"x":710,"g":450,"ge":100,"a":308,"ae":40},{"x":720,"g":440,"ge":100,"a":310,"ae":40},{"x":730,"g":460,"ge":100,"a":312,"ae":40},{"x":740,"g":450,"ge":100,"a":314,"ae":40},{"x":750,"g":470,"ge":100,"a":316,"ae":40},{"x":760,"g":480,"ge":100,"a":318,"ae":40},
{"x":770,"g":460,"ge":100,"a":320,"ae":40},{"x":780,"g":500,"ge":110,"a":322,"ae":40},{"x":790,"g":430,"ge":100,"a":324,"ae":40},{"x":800,"g":380,"ge":100,"a":326,"ae":40},{"x":810,"g":370,"ge":100,"a":328,"ae":40},{"x":820,"g":390,"ge":100,"a":330,"ae":40},{"x":830,"g":380,"ge":100,"a":332,"ae":40},{"x":840,"g":400,"ge":110,"a":334,"ae":40},{"x":850,"g":440,"ge":120,"a":336,"ae":40},{"x":860,"g":450,"ge":120,"a":338,"ae":40},
{"x":865,"g":420,"ge":110,"a":339,"ae":40},{"x":870,"g":250,"ge":100,"a":340,"ae":40},{"x":875,"g":100,"ge":90,"a":342,"ae":40},{"x":880,"g":120,"ge":80,"a":344,"ae":40},{"x":890,"g":140,"ge":80,"a":348,"ae":40},{"x":900,"g":130,"ge":80,"a":350,"ae":40},{"x":910,"g":150,"ge":80,"a":352,"ae":40},{"x":920,"g":140,"ge":80,"a":354,"ae":40},{"x":930,"g":150,"ge":80,"a":356,"ae":40},{"x":940,"g":130,"ge":80,"a":358,"ae":40},
{"x":950,"g":150,"ge":80,"a":360,"ae":40},{"x":960,"g":140,"ge":80,"a":362,"ae":40},{"x":970,"g":150,"ge":80,"a":364,"ae":40},{"x":980,"g":130,"ge":80,"a":366,"ae":40},{"x":990,"g":140,"ge":80,"a":368,"ae":40},{"x":1000,"g":150,"ge":80,"a":370,"ae":40}
]
},
"vconcat":[
{"width":871,"height":61,"data":{"name":"p1"},
"title":{"text":"GISA vs. Abernethy’s, θ\u2002=\u200210, J\u2002=\u200210³, N\u2002=\u2002100","font":"Lato","fontSize":26,"fontWeight":"normal","color":"#000000","anchor":"start","frame":"group","dx":30,"dy":26,"baseline":"alphabetic","offset":13},
"layer":[
{"mark":{"type":"errorband","color":"#ff0000","band":{"opacity":0.17},"borders":{"opacity":0.3,"strokeWidth":0.8}},
"encoding":{"x":{"field":"x","type":"quantitative","title":null,"scale":{"domain":[0,1000],"nice":false},"axis":{"values":[100,200,300,400,500,600,700,800,900,1000],"labelExpr":"'' + datum.value","domainColor":"#262626","domainWidth":2.5}},
"y":{"field":"g","type":"quantitative","title":"πₖ*⁽q⁾","scale":{"domain":[0,1]},"axis":{"values":[0,0.5,1],"labelExpr":"'' + datum.value","domainColor":"#404040","domainWidth":1,"titleFont":"Liberation Serif","titleFontStyle":"italic","titleFontWeight":"normal","titleFontSize":26,"titleColor":"#000000","titleBaseline":"alphabetic","titleAlign":"center","titleAngle":-90,"titleX":-31,"titleY":30}},
"yError":{"field":"ge"}}},
{"mark":{"type":"errorband","color":"#0000ff","band":{"opacity":0.15},"borders":{"opacity":0.3,"strokeWidth":0.8}},
"encoding":{"x":{"field":"x","type":"quantitative","title":null},"y":{"field":"a","type":"quantitative","title":"πₖ*⁽q⁾"},"yError":{"field":"ae"}}},
{"transform":[{"fold":["g","a"],"as":["s","v"]}],"mark":{"type":"line"},
"encoding":{"x":{"field":"x","type":"quantitative","title":null},"y":{"field":"v","type":"quantitative","title":"πₖ*⁽q⁾"},
"color":{"field":"s","type":"nominal","scale":{"domain":["g","a"],"range":["#ff0000","#0000ff"]},"legend":{"title":null,"orient":"none","legendX":631,"legendY":-68,"padding":0,"labelExpr":"datum.label == 'g' ? 'GISA' : 'Abernethy’s'","labelFont":"Lato","labelFontSize":26,"labelColor":"#000000","labelOffset":8,"symbolType":"stroke","symbolSize":1225,"rowPadding":-5,"encode":{"symbols":{"update":{"strokeWidth":{"signal":"datum.value === 'g' ? 7 : 3"}}}}}},
"strokeWidth":{"field":"s","type":"nominal","scale":{"domain":["g","a"],"range":[3,1.1]},"legend":null}}},
{"mark":{"type":"rule","color":"#1a1a1a","strokeWidth":2.5},"encoding":{"y":{"datum":1}}}
]},
{"width":871,"height":61,"data":{"name":"p2"},
"layer":[
{"mark":{"type":"errorband","color":"#ff0000","band":{"opacity":0.17},"borders":{"opacity":0.3,"strokeWidth":0.8}},
"encoding":{"x":{"field":"x","type":"quantitative","title":null,"scale":{"domain":[0,1000],"nice":false},"axis":{"values":[100,200,300,400,500,600,700,800,900,1000],"labelExpr":"'' + datum.value","domainColor":"#262626","domainWidth":2.5}},
"y":{"field":"g","type":"quantitative","title":"correct %","scale":{"domain":[0,1]},"axis":{"values":[0,0.5,1],"labelExpr":"'' + datum.value","domainColor":"#404040","domainWidth":1,"titleFont":"Lato","titleFontWeight":"normal","titleFontSize":20,"titleColor":"#000000","titleBaseline":"alphabetic","titleAlign":"center","titleAngle":-90,"titleX":-37,"titleY":25}},
"yError":{"field":"ge"}}},
{"mark":{"type":"errorband","color":"#0000ff","band":{"opacity":0.15},"borders":{"opacity":0.3,"strokeWidth":0.8}},
"encoding":{"x":{"field":"x","type":"quantitative","title":null},"y":{"field":"a","type":"quantitative","title":"correct %"},"yError":{"field":"ae"}}},
{"transform":[{"fold":["g","a"],"as":["s","v"]}],"mark":{"type":"line"},
"encoding":{"x":{"field":"x","type":"quantitative","title":null},"y":{"field":"v","type":"quantitative","title":"correct %"},
"color":{"field":"s","type":"nominal","scale":{"domain":["g","a"],"range":["#ff0000","#0000ff"]}},
"strokeWidth":{"field":"s","type":"nominal","scale":{"domain":["g","a"],"range":[3,1.1]},"legend":null}}},
{"mark":{"type":"rule","color":"#1a1a1a","strokeWidth":2.5},"encoding":{"y":{"datum":1}}}
]},
{"width":871,"height":61,"data":{"name":"p3"},
"layer":[
{"mark":{"type":"errorband","color":"#ff0000","band":{"opacity":0.17},"borders":{"opacity":0.3,"strokeWidth":0.8}},
"encoding":{"x":{"field":"x","type":"quantitative","title":null,"scale":{"domain":[0,1000],"nice":false},"axis":{"values":[100,200,300,400,500,600,700,800,900,1000],"labelExpr":"'' + datum.value","domainColor":"#262626","domainWidth":2.5}},
"y":{"field":"g","type":"quantitative","title":"ĉ","scale":{"domain":[0,1]},"axis":{"values":[0,0.5,1],"labelExpr":"'' + datum.value","domainColor":"#404040","domainWidth":1,"titleFont":"Liberation Serif","titleFontStyle":"italic","titleFontWeight":"normal","titleFontSize":26,"titleColor":"#000000","titleBaseline":"alphabetic","titleAlign":"center","titleAngle":-90,"titleX":-42,"titleY":25}},
"yError":{"field":"ge"}}},
{"mark":{"type":"errorband","color":"#0000ff","band":{"opacity":0.15},"borders":{"opacity":0.3,"strokeWidth":0.8}},
"encoding":{"x":{"field":"x","type":"quantitative","title":null},"y":{"field":"a","type":"quantitative","title":"ĉ"},"yError":{"field":"ae"}}},
{"transform":[{"fold":["g","a"],"as":["s","v"]}],"mark":{"type":"line"},
"encoding":{"x":{"field":"x","type":"quantitative","title":null},"y":{"field":"v","type":"quantitative","title":"ĉ"},
"color":{"field":"s","type":"nominal","scale":{"domain":["g","a"],"range":["#ff0000","#0000ff"]}},
"strokeWidth":{"field":"s","type":"nominal","scale":{"domain":["g","a"],"range":[3,1.1]},"legend":null}}},
{"mark":{"type":"rule","color":"#1a1a1a","strokeWidth":2.5},"encoding":{"y":{"datum":1}}}
]},
{"width":871,"height":61,"data":{"name":"p4"},
"layer":[
{"mark":{"type":"errorband","color":"#ff0000","band":{"opacity":0.17},"borders":{"opacity":0.3,"strokeWidth":0.8}},
"encoding":{"x":{"field":"x","type":"quantitative","title":"Number of queries","scale":{"domain":[0,1000],"nice":false},"axis":{"values":[100,200,300,400,500,600,700,800,900,1000],"labelExpr":"'' + datum.value","labelPadding":12,"domainColor":"#8c8c8c","domainWidth":1,"titleFont":"Lato","titleFontWeight":"normal","titleFontSize":24,"titleColor":"#000000","titleBaseline":"alphabetic","titleAlign":"center","titleX":352,"titleY":41}},
"y":{"field":"g","type":"quantitative","title":"d̂","scale":{"domain":[-2000,2000]},"axis":{"values":[-2000,0,2000],"labelExpr":"'' + datum.value","domainColor":"#8c8c8c","domainWidth":1,"titleFont":"Liberation Serif","titleFontStyle":"italic","titleFontWeight":"normal","titleFontSize":30,"titleColor":"#000000","titleBaseline":"alphabetic","titleAlign":"center","titleAngle":-90,"titleX":-39,"titleY":30}},
"yError":{"field":"ge"}}},
{"mark":{"type":"errorband","color":"#0000ff","band":{"opacity":0.15},"borders":{"opacity":0.3,"strokeWidth":0.8}},
"encoding":{"x":{"field":"x","type":"quantitative","title":"Number of queries"},"y":{"field":"a","type":"quantitative","title":"d̂"},"yError":{"field":"ae"}}},
{"transform":[{"fold":["g","a"],"as":["s","v"]}],"mark":{"type":"line"},
"encoding":{"x":{"field":"x","type":"quantitative","title":"Number of queries"},"y":{"field":"v","type":"quantitative","title":"d̂"},
"color":{"field":"s","type":"nominal","scale":{"domain":["g","a"],"range":["#ff0000","#0000ff"]}},
"strokeWidth":{"field":"s","type":"nominal","scale":{"domain":["g","a"],"range":[3,1.1]},"legend":null}}}
]}
]
}
